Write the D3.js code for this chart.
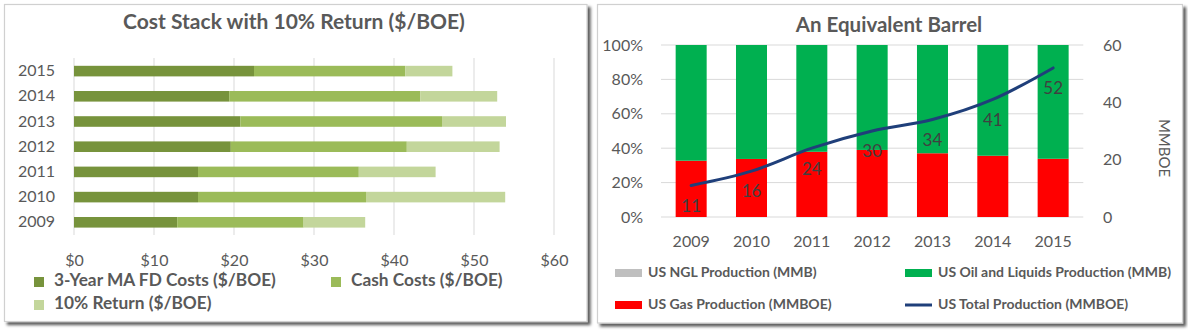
<!DOCTYPE html>
<html>
<head>
<meta charset="utf-8">
<script src="https://cdn.jsdelivr.net/npm/d3@7"></script>
<style>
  html, body { margin: 0; padding: 0; background: #ffffff; }
  svg { display: block; }
  text { font-family: Lato, "Open Sans", sans-serif; }
</style>
</head>
<body>
<svg id="chart" width="1188" height="332"></svg>
<script>
// ---------- Data ----------
const years = ["2009", "2010", "2011", "2012", "2013", "2014", "2015"];

// Left chart: cost stack ($/BOE)
const fdCosts     = [12.9, 15.5, 15.5, 19.6, 20.8, 19.4, 22.5];
const cashCosts   = [15.8, 21.0, 20.1, 22.0, 25.2, 23.9, 18.9];
const returnCosts = [7.7, 17.4, 9.6, 11.6, 8.0, 9.6, 5.9];
const costTicks   = [0, 10, 20, 30, 40, 50, 60];
const costSeries  = ["3-Year MA FD Costs ($/BOE)", "Cash Costs ($/BOE)", "10% Return ($/BOE)"];

// Right chart: an equivalent barrel
const nglProd   = [0, 0, 0, 0, 0, 0, 0];
const oilProd   = [7.4, 10.6, 14.9, 18.3, 21.4, 26.4, 34.4];
const gasProd   = [3.6, 5.4, 9.1, 11.7, 12.6, 14.6, 17.6];
const totalProd = [11, 16, 24, 30, 34, 41, 52];
const pctTicks  = [0, 0.2, 0.4, 0.6, 0.8, 1.0];
const mmboeTicks = [0, 20, 40, 60];
const prodSeries = ["US NGL Production (MMB)", "US Oil and Liquids Production (MMB)",
                    "US Gas Production (MMBOE)", "US Total Production (MMBOE)"];

// ---------- Setup ----------
const svg = d3.select("#chart");
const gray = "#595959";

const defs = svg.append("defs");
const f = defs.append("filter").attr("id", "shadow")
  .attr("x", "-5%").attr("y", "-5%").attr("width", "115%").attr("height", "120%");
f.append("feDropShadow").attr("dx", 3).attr("dy", 3).attr("stdDeviation", 1.8)
  .attr("flood-color", "#000").attr("flood-opacity", 0.65);

function panel(x0, y0, x1, y1) {
  svg.append("rect").attr("x", x0).attr("y", y0).attr("width", x1 - x0).attr("height", y1 - y0)
    .attr("fill", "#fff").attr("stroke", "#d0d0d0").attr("stroke-width", 1.2)
    .attr("filter", "url(#shadow)");
}
panel(4.5, 4.5, 587, 321.5);
panel(597.5, 4.5, 1182.5, 323);

// ---------- Left chart ----------
const L = svg.append("g");
L.append("text").attr("x", 294).attr("y", 24).attr("text-anchor", "middle")
  .attr("dominant-baseline", "middle").attr("font-size", 21).attr("font-weight", "bold")
  .attr("fill", gray).text("Cost Stack with 10% Return ($/BOE)");

const xCost = d3.scaleLinear().domain([0, 60]).range([74, 554]);
const yYear = d3.scaleBand().domain(years.slice().reverse()).range([58.5, 234.9])
  .paddingInner(0.58).paddingOuter(0.29);

L.append("g").selectAll("line").data(costTicks).join("line")
  .attr("x1", d => xCost(d)).attr("x2", d => xCost(d))
  .attr("y1", 58).attr("y2", 235)
  .attr("stroke", "#d9d9d9").attr("stroke-width", 1);

const costData = years.map((y, i) => ({ year: y, fd: fdCosts[i], cash: cashCosts[i], ret: returnCosts[i] }));
const costStack = d3.stack().keys(["fd", "cash", "ret"])(costData);
const costColors = ["#77933c", "#9bbb59", "#c3d69b"];

L.append("g").selectAll("g").data(costStack).join("g")
  .attr("fill", (d, i) => costColors[i])
  .selectAll("rect").data(d => d).join("rect")
  .attr("x", d => xCost(d[0])).attr("width", d => xCost(d[1]) - xCost(d[0]))
  .attr("y", d => yYear(d.data.year)).attr("height", yYear.bandwidth());

// axes
const xAxisL = L.append("g").attr("transform", "translate(0,252)")
  .call(d3.axisBottom(xCost).tickValues(costTicks).tickFormat(d => "$" + d).tickSize(0));
xAxisL.select(".domain").remove();
xAxisL.selectAll("text").attr("font-size", 16).attr("fill", gray).attr("font-family", "Lato");

const yAxisL = L.append("g").attr("transform", "translate(64,0)")
  .call(d3.axisLeft(yYear).tickSize(0).tickPadding(9));
yAxisL.select(".domain").remove();
yAxisL.selectAll("text").attr("font-size", 16).attr("fill", gray).attr("font-family", "Lato");

// legend
const legL = [
  { x: 34, y: 282, c: costColors[0], t: costSeries[0] },
  { x: 331, y: 282, c: costColors[1], t: costSeries[1] },
  { x: 34, y: 305, c: costColors[2], t: costSeries[2] }
];
const lg = L.append("g").selectAll("g").data(legL).join("g");
lg.append("rect").attr("x", d => d.x).attr("y", d => d.y - 5).attr("width", 10).attr("height", 10)
  .attr("fill", d => d.c);
lg.append("text").attr("x", d => d.x + 20).attr("y", d => d.y).attr("dominant-baseline", "middle")
  .attr("font-size", 17.3).attr("font-weight", "bold").attr("fill", gray).text(d => d.t);

// ---------- Right chart ----------
const R = svg.append("g");
R.append("text").attr("x", 889).attr("y", 27).attr("text-anchor", "middle")
  .attr("dominant-baseline", "middle").attr("font-size", 20.5).attr("font-weight", "bold")
  .attr("fill", gray).text("An Equivalent Barrel");

const xYear = d3.scaleBand().domain(years).range([661, 1083.3]).paddingInner(0.486).paddingOuter(0.243);
const yPct = d3.scaleLinear().domain([0, 1]).range([217, 45]);
const yMM = d3.scaleLinear().domain([0, 60]).range([217, 45]);

R.append("g").selectAll("line").data(pctTicks).join("line")
  .attr("x1", 661).attr("x2", 1083.3)
  .attr("y1", d => yPct(d)).attr("y2", d => yPct(d))
  .attr("stroke", "#d9d9d9").attr("stroke-width", 1);

const prodData = years.map((y, i) => ({ year: y, gas: gasProd[i], oil: oilProd[i], ngl: nglProd[i] }));
const prodStack = d3.stack().keys(["gas", "oil", "ngl"]).offset(d3.stackOffsetExpand)(prodData);
const prodColors = { gas: "#ff0000", oil: "#00b050", ngl: "#bfbfbf" };

R.append("g").selectAll("g").data(prodStack).join("g")
  .attr("fill", d => prodColors[d.key])
  .selectAll("rect").data(d => d).join("rect")
  .attr("x", d => xYear(d.data.year)).attr("width", xYear.bandwidth())
  .attr("y", d => yPct(d[1])).attr("height", d => yPct(d[0]) - yPct(d[1]));

const line = d3.line().x((d, i) => xYear(years[i]) + xYear.bandwidth() / 2).y(d => yMM(d))
  .curve(d3.curveMonotoneX);
R.append("path").datum(totalProd).attr("d", line).attr("fill", "none")
  .attr("stroke", "#1f3f7a").attr("stroke-width", 3).attr("stroke-linecap", "round");

R.append("g").selectAll("text").data(totalProd).join("text")
  .attr("x", (d, i) => xYear(years[i]) + xYear.bandwidth() / 2)
  .attr("y", d => yMM(d) + 22).attr("text-anchor", "middle").attr("dominant-baseline", "middle")
  .attr("font-size", 17).attr("fill", "#404040").text(d => d);

const yAxisR1 = R.append("g").attr("transform", "translate(651,0)")
  .call(d3.axisLeft(yPct).tickValues(pctTicks).tickFormat(d3.format(".0%")).tickSize(0).tickPadding(8));
yAxisR1.select(".domain").remove();
yAxisR1.selectAll("text").attr("font-size", 16).attr("fill", gray).attr("font-family", "Lato");

const yAxisR2 = R.append("g").attr("transform", "translate(1094,0)")
  .call(d3.axisRight(yMM).tickValues(mmboeTicks).tickSize(0).tickPadding(9));
yAxisR2.select(".domain").remove();
yAxisR2.selectAll("text").attr("font-size", 16).attr("fill", gray).attr("font-family", "Lato");

R.append("text").attr("transform", "translate(1163,148) rotate(90)").attr("text-anchor", "middle")
  .attr("dominant-baseline", "middle").attr("font-size", 15).attr("fill", gray).text("MMBOE");

const xAxisR = R.append("g").attr("transform", "translate(0,233)")
  .call(d3.axisBottom(xYear).tickSize(0));
xAxisR.select(".domain").remove();
xAxisR.selectAll("text").attr("font-size", 16).attr("fill", gray).attr("font-family", "Lato");

// legend
const legR = [
  { x: 615, y: 273, c: prodColors.ngl, t: prodSeries[0], type: "rect" },
  { x: 905, y: 273, c: prodColors.oil, t: prodSeries[1], type: "rect" },
  { x: 615, y: 305, c: prodColors.gas, t: prodSeries[2], type: "rect" },
  { x: 905, y: 305, c: "#1f3f7a", t: prodSeries[3], type: "line" }
];
const lr = R.append("g").selectAll("g").data(legR).join("g");
lr.filter(d => d.type === "rect").append("rect")
  .attr("x", d => d.x).attr("y", d => d.y - 4).attr("width", 27).attr("height", 8).attr("fill", d => d.c);
lr.filter(d => d.type === "line").append("line")
  .attr("x1", d => d.x).attr("x2", d => d.x + 27).attr("y1", d => d.y).attr("y2", d => d.y)
  .attr("stroke", d => d.c).attr("stroke-width", 3);
lr.append("text").attr("x", d => d.x + 33).attr("y", d => d.y).attr("dominant-baseline", "middle")
  .attr("font-size", 14).attr("font-weight", "bold").attr("fill", gray).text(d => d.t);
</script>
</body>
</html>
